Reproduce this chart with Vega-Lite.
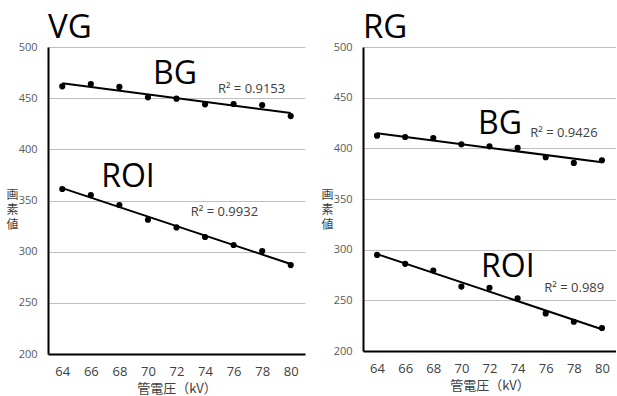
{
  "$schema": "https://vega.github.io/schema/vega-lite/v6.json",
  "padding": {"left": 5, "top": 12, "right": 0, "bottom": 0},
  "background": "white",
  "config": {
    "view": {"stroke": null},
    "font": "Open Sans",
    "concat": {"spacing": 15},
    "title": {"fontSize": 33, "fontWeight": "normal", "anchor": "start", "frame": "group", "color": "#000000", "offset": -4, "font": "Open Sans"},
    "axisY": {
      "domain": true, "domainColor": "#000000", "domainWidth": 2,
      "ticks": false, "grid": true, "gridColor": "#bfbfbf", "gridWidth": 1.2,
      "labelColor": "#595959", "labelFontSize": 11, "labelPadding": 11,
      "titleAngle": 0, "titleFontSize": 12, "titleFontWeight": "normal", "titleColor": "#404040",
      "titleFont": "Noto Sans CJK JP", "titleLineHeight": 15, "titleX": -36, "titleY": 147, "titleAlign": "center", "titleBaseline": "middle"
    },
    "axisX": {
      "domain": true, "domainColor": "#000000", "domainWidth": 2,
      "ticks": false, "grid": false,
      "labelColor": "#404040", "labelFontSize": 13, "labelPadding": 11,
      "titleFont": "Noto Sans CJK JP", "titleFontSize": 13, "titleFontWeight": "normal", "titleColor": "#404040", "titlePadding": 4
    }
  },
  "datasets": {
    "vg": [
      {"kV": 64, "roi": "BG", "value": 461.6},
      {"kV": 66, "roi": "BG", "value": 463.8},
      {"kV": 68, "roi": "BG", "value": 461.0},
      {"kV": 70, "roi": "BG", "value": 450.8},
      {"kV": 72, "roi": "BG", "value": 449.5},
      {"kV": 74, "roi": "BG", "value": 444.0},
      {"kV": 76, "roi": "BG", "value": 444.3},
      {"kV": 78, "roi": "BG", "value": 443.3},
      {"kV": 80, "roi": "BG", "value": 432.5},
      {"kV": 64, "roi": "ROI", "value": 361.2},
      {"kV": 66, "roi": "ROI", "value": 355.3},
      {"kV": 68, "roi": "ROI", "value": 345.6},
      {"kV": 70, "roi": "ROI", "value": 331.2},
      {"kV": 72, "roi": "ROI", "value": 323.7},
      {"kV": 74, "roi": "ROI", "value": 314.3},
      {"kV": 76, "roi": "ROI", "value": 306.5},
      {"kV": 78, "roi": "ROI", "value": 300.6},
      {"kV": 80, "roi": "ROI", "value": 286.9}
    ],
    "rg": [
      {"kV": 64, "roi": "BG", "value": 412.5},
      {"kV": 66, "roi": "BG", "value": 411.2},
      {"kV": 68, "roi": "BG", "value": 410.2},
      {"kV": 70, "roi": "BG", "value": 404.0},
      {"kV": 72, "roi": "BG", "value": 402.0},
      {"kV": 74, "roi": "BG", "value": 400.4},
      {"kV": 76, "roi": "BG", "value": 391.2},
      {"kV": 78, "roi": "BG", "value": 385.6},
      {"kV": 80, "roi": "BG", "value": 388.2},
      {"kV": 64, "roi": "ROI", "value": 294.8},
      {"kV": 66, "roi": "ROI", "value": 286.0},
      {"kV": 68, "roi": "ROI", "value": 279.4},
      {"kV": 70, "roi": "ROI", "value": 263.6},
      {"kV": 72, "roi": "ROI", "value": 262.4},
      {"kV": 74, "roi": "ROI", "value": 251.9},
      {"kV": 76, "roi": "ROI", "value": 237.1},
      {"kV": 78, "roi": "ROI", "value": 228.9},
      {"kV": 80, "roi": "ROI", "value": 222.7}
    ]
  },
  "hconcat": [
    {
      "title": "VG",
      "width": 257,
      "height": 307,
      "data": {"name": "vg"},
      "encoding": {
        "x": {"field": "kV", "type": "quantitative", "scale": {"domain": [63, 81], "nice": false, "zero": false},
              "axis": {"values": [64, 66, 68, 70, 72, 74, 76, 78, 80], "title": "管電圧（kV）"}},
        "y": {"field": "value", "type": "quantitative", "scale": {"domain": [200, 500], "nice": false, "zero": false},
              "axis": {"values": [200, 250, 300, 350, 400, 450, 500], "title": ["画", "素", "値"]}}
      },
      "layer": [
        {"mark": {"type": "point", "filled": true, "color": "#000000", "size": 38, "opacity": 1}},
        {
          "transform": [{"regression": "value", "on": "kV", "groupby": ["roi"], "extent": [64, 80]}],
          "mark": {"type": "line", "color": "#000000", "strokeWidth": 2},
          "encoding": {"detail": {"field": "roi"}}
        },
        {"transform": [{"filter": "datum.kV == 64 && datum.roi == 'BG'"}],
         "mark": {"type": "text", "fontSize": 32, "color": "#000000", "align": "center", "baseline": "middle"},
         "encoding": {"x": {"datum": 71.9}, "y": {"datum": 474}, "text": {"value": "BG"}}},
        {"transform": [{"filter": "datum.kV == 64 && datum.roi == 'BG'"}],
         "mark": {"type": "text", "fontSize": 32, "color": "#000000", "align": "center", "baseline": "middle"},
         "encoding": {"x": {"datum": 68.6}, "y": {"datum": 373}, "text": {"value": "ROI"}}},
        {"transform": [{"filter": "datum.kV == 64 && datum.roi == 'BG'"}],
         "mark": {"type": "text", "fontSize": 13, "color": "#404040", "align": "left", "baseline": "middle"},
         "encoding": {"x": {"datum": 74.9}, "y": {"datum": 459}, "text": {"value": "R² = 0.9153"}}},
        {"transform": [{"filter": "datum.kV == 64 && datum.roi == 'BG'"}],
         "mark": {"type": "text", "fontSize": 13, "color": "#404040", "align": "left", "baseline": "middle"},
         "encoding": {"x": {"datum": 73.0}, "y": {"datum": 339}, "text": {"value": "R² = 0.9932"}}}
      ]
    },
    {
      "title": "RG",
      "width": 253,
      "height": 304,
      "data": {"name": "rg"},
      "encoding": {
        "x": {"field": "kV", "type": "quantitative", "scale": {"domain": [63, 81], "nice": false, "zero": false},
              "axis": {"values": [64, 66, 68, 70, 72, 74, 76, 78, 80], "title": "管電圧（kV）"}},
        "y": {"field": "value", "type": "quantitative", "scale": {"domain": [200, 500], "nice": false, "zero": false},
              "axis": {"values": [200, 250, 300, 350, 400, 450, 500], "title": ["画", "素", "値"]}}
      },
      "layer": [
        {"mark": {"type": "point", "filled": true, "color": "#000000", "size": 38, "opacity": 1}},
        {
          "transform": [{"regression": "value", "on": "kV", "groupby": ["roi"], "extent": [64, 80]}],
          "mark": {"type": "line", "color": "#000000", "strokeWidth": 2},
          "encoding": {"detail": {"field": "roi"}}
        },
        {"transform": [{"filter": "datum.kV == 64 && datum.roi == 'BG'"}],
         "mark": {"type": "text", "fontSize": 32, "color": "#000000", "align": "center", "baseline": "middle"},
         "encoding": {"x": {"datum": 72.75}, "y": {"datum": 424}, "text": {"value": "BG"}}},
        {"transform": [{"filter": "datum.kV == 64 && datum.roi == 'BG'"}],
         "mark": {"type": "text", "fontSize": 32, "color": "#000000", "align": "center", "baseline": "middle"},
         "encoding": {"x": {"datum": 73.3}, "y": {"datum": 283}, "text": {"value": "ROI"}}},
        {"transform": [{"filter": "datum.kV == 64 && datum.roi == 'BG'"}],
         "mark": {"type": "text", "fontSize": 13, "color": "#404040", "align": "left", "baseline": "middle"},
         "encoding": {"x": {"datum": 74.9}, "y": {"datum": 415}, "text": {"value": "R² = 0.9426"}}},
        {"transform": [{"filter": "datum.kV == 64 && datum.roi == 'BG'"}],
         "mark": {"type": "text", "fontSize": 13, "color": "#404040", "align": "left", "baseline": "middle"},
         "encoding": {"x": {"datum": 75.9}, "y": {"datum": 262}, "text": {"value": "R² = 0.989"}}}
      ]
    }
  ]
}
